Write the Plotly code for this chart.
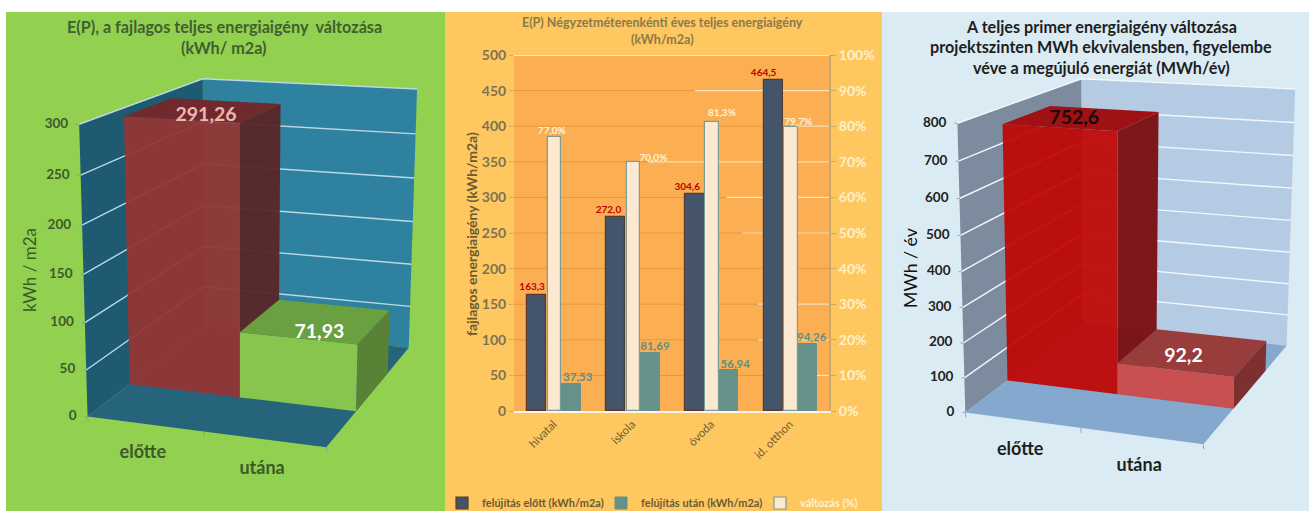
import numpy as np
import plotly.graph_objects as go

W, H = 1309, 511
FONT = "Lato"

# ---------- data ----------
left_categories = ["előtte", "utána"]
left_values = [291.26, 71.93]
left_labels = ["291,26", "71,93"]
left_ticks = [0, 50, 100, 150, 200, 250, 300]

mid_categories = ["hivatal", "iskola", "óvoda", "id. otthon"]
mid_before = [163.3, 272.0, 304.6, 464.5]
mid_after = [37.53, 81.69, 56.94, 94.26]
mid_change = [77.0, 70.0, 81.3, 79.7]
mid_ticks_left = [0, 50, 100, 150, 200, 250, 300, 350, 400, 450, 500]
mid_ticks_right = [0, 10, 20, 30, 40, 50, 60, 70, 80, 90, 100]

right_categories = ["előtte", "utána"]
right_values = [752.6, 92.2]
right_labels = ["752,6", "92,2"]
right_ticks = [0, 100, 200, 300, 400, 500, 600, 700, 800]


def dec(v, n):
    return f"{v:.{n}f}".replace(".", ",")


# ---------- perspective box: (u across, v depth, w height) -> page pixels ----------
def camera(pairs):
    A, b = [], []
    for (u, v, w), (px, py) in pairs:
        A.append([u, v, w, 1, 0, 0, 0, 0, -px * u, -px * v, -px * w])
        b.append(px)
        A.append([0, 0, 0, 0, u, v, w, 1, -py * u, -py * v, -py * w])
        b.append(py)
    p = np.linalg.lstsq(np.array(A, float), np.array(b, float), rcond=None)[0]
    M = np.append(p, 1).reshape(3, 4)

    def project(u, v, w):
        x, y, z = M @ np.array([u, v, w, 1.0])
        return x / z, y / z

    return project


left_box = camera([
    ((0, 0, 0), (88, 417)), ((1, 0, 0), (326, 447)), ((0, 1, 0), (204, 326)),
    ((1, 1, 0), (409, 348)), ((0, 0, 1), (79, 124)), ((0, 1, 1), (203, 79)),
    ((1, 1, 1), (417, 89)),
])
right_box = camera([
    ((0, 0, 0), (966, 413)), ((1, 0, 0), (1203, 444)), ((0, 1, 0), (1082, 323)),
    ((1, 1, 0), (1287, 346)), ((0, 0, 1), (957, 123)), ((0, 1, 1), (1082, 79)),
    ((1, 1, 1), (1295, 89)),
])

fig = go.Figure()


def poly(points, color):
    xs, ys = zip(*points)
    fig.add_trace(go.Scatter(x=list(xs) + [xs[0]], y=list(ys) + [ys[0]], mode="lines", fill="toself",
                             fillcolor=color, line=dict(width=0), hoverinfo="skip", showlegend=False))


def line(points, color, width=1.5):
    xs, ys = zip(*points)
    fig.add_trace(go.Scatter(x=list(xs), y=list(ys), mode="lines", line=dict(color=color, width=width),
                             hoverinfo="skip", showlegend=False))


def label(x, y, text, size, color, bold=True, pos="middle center"):
    fig.add_trace(go.Scatter(x=[x], y=[y], mode="text", text=[f"<b>{text}</b>" if bold else text],
                             textposition=pos, textfont=dict(family=FONT, size=size, color=color),
                             hoverinfo="skip", showlegend=False))


def chart3d(box, values, labels, cats, ticks, st):
    top = ticks[-1]
    P = lambda u, v, val: box(u, v, val / top)
    poly([P(0, 0, 0), P(0, 1, 0), P(0, 1, top), P(0, 0, top)], st["wall_left"])
    poly([P(0, 1, 0), P(1, 1, 0), P(1, 1, top), P(0, 1, top)], st["wall_back"])
    poly([P(0, 0, 0), P(1, 0, 0), P(1, 1, 0), P(0, 1, 0)], st["floor"])
    for t in ticks:
        if t > 0:
            line([P(0, 0, t), P(0, 1, t), P(1, 1, t)], st["grid"], 1.4)
        x, y = P(0, 0, t)
        line([(x - 3, y), (x, y)], st["axis"], 1)
        label(x - 11, y, str(t), 13.5, st["tick"], pos="middle left")
    for u in (0, .5, 1):
        x, y = P(u, 0, 0)
        line([(x, y), (x + 0.5, y + 5)], st["axis"], 1)
    v0, v1 = st["v0"], st["v1"]
    for i, val in enumerate(values):
        a, b = i / 2, (i + 1) / 2
        c = st["bars"][i]
        poly([P(a, v0, val), P(b, v0, val), P(b, v1, val), P(a, v1, val)], c["top"])
        poly([P(b, v0, 0), P(b, v1, 0), P(b, v1, val), P(b, v0, val)], c["side"])
        poly([P(a, v0, 0), P(b, v0, 0), P(b, v0, val), P(a, v0, val)], c["front"])
    for i, val in enumerate(values):
        a = (i + .5) / 2
        x, y = P(a, (v0 + v1) / 2, val)
        label(x + st["lab_dx"][i], y + st["lab_dy"][i], labels[i], 19.5, st["lab_col"][i])
        x, y = P(a, 0, 0)
        label(x - 2, y + 30, cats[i], 18, st["cat"])


chart3d(left_box, left_values, left_labels, left_categories, left_ticks, dict(
    wall_left="#1E5A72", wall_back="#2F829F", floor="#26647C", grid="#B9DAE2", axis="#7FA98E",
    tick="#3C5A2C", cat="#3A5A2A", v0=.32, v1=.71,
    bars=[dict(front="rgba(148,53,52,.94)", side="rgba(88,40,42,.96)", top="#702A2D"),
          dict(front="#88C54F", side="#5A8237", top="#6AA03F")],
    lab_dx=[2, 3], lab_dy=[6, 12], lab_col=["#EDB7B0", "#FFFFFF"],
))
chart3d(right_box, right_values, right_labels, right_categories, right_ticks, dict(
    wall_left="#7C8B9D", wall_back="#B5CAE3", floor="#85A8CE", grid="#F2F7FB", axis="#9AA5AE",
    tick="#222222", cat="#1E1E1E", v0=.32, v1=.71,
    bars=[dict(front="rgba(191,7,6,.94)", side="rgba(122,16,20,.96)", top="#A01114"),
          dict(front="#C85050", side="#7E2F2F", top="#993C3C")],
    lab_dx=[-8, -10], lab_dy=[1, 5], lab_col=["#1A0A0A", "#FFFFFF"],
))

# ---------- middle chart: ordinary grouped columns on two axes ----------
mid_x = list(range(len(mid_categories)))
BLUE, TEAL, CREAM = "#44546A", "#66918A", "#FBE9D2"
fig.add_trace(go.Bar(x=mid_x, y=mid_before, name="felújítás előtt (kWh/m2a)", width=.24, offset=-.33,
                     marker=dict(color=BLUE, line=dict(color="#5A3A2C", width=1.2)),
                     xaxis="x2", yaxis="y2"))
fig.add_trace(go.Bar(x=mid_x, y=mid_after, name="felújítás után (kWh/m2a)", width=.24, offset=.11,
                     marker=dict(color=TEAL, line=dict(color=TEAL, width=1)),
                     xaxis="x2", yaxis="y2"))
fig.add_trace(go.Bar(x=mid_x, y=mid_change, name='<span style="color:#FFF3D6">változás (%)</span>', width=.17, offset=-.07,
                     marker=dict(color=CREAM, line=dict(color="#7D9C98", width=1.2)),
                     xaxis="x2", yaxis="y3"))

AXIS_RATIO = 100 / 500  # all value labels sit on the top (percent) axis so no column hides them
before_dx = [-.27, -.30, -.30, -.33]
after_dx = [.31, .29, .31, .28]
change_dx = [-.02, .27, .14, .11]
change_dy = [0, -.6, 1, 0]
fig.add_trace(go.Scatter(x=[i + d for i, d in zip(mid_x, before_dx)], y=[v * AXIS_RATIO + .5 for v in mid_before],
                         text=[f"<b>{dec(v, 1)}</b>" for v in mid_before], mode="text", textposition="top center",
                         textfont=dict(family=FONT, size=10, color="#C00000"), xaxis="x2", yaxis="y3",
                         showlegend=False, hoverinfo="skip"))
fig.add_trace(go.Scatter(x=[i + d for i, d in zip(mid_x, after_dx)], y=[v * AXIS_RATIO for v in mid_after],
                         text=[f"<b>{dec(v, 2)}</b>" for v in mid_after], mode="text", textposition="top center",
                         textfont=dict(family=FONT, size=11.5, color="#5F8E85"), xaxis="x2", yaxis="y3",
                         showlegend=False, hoverinfo="skip"))
fig.add_trace(go.Scatter(x=[i + d for i, d in zip(mid_x, change_dx)], y=[v + d for v, d in zip(mid_change, change_dy)],
                         text=[f"<b>{dec(v, 1)}%</b>" for v in mid_change], mode="text", textposition="top center",
                         textfont=dict(family=FONT, size=10, color="#FFF3D6"), xaxis="x2", yaxis="y3",
                         showlegend=False, hoverinfo="skip"))

PLOT_L, PLOT_R, PLOT_T, PLOT_B = 514, 829, 55, 411
shapes = [
    dict(type="rect", xref="paper", yref="paper", x0=6 / W, x1=445 / W, y0=0, y1=1 - 12 / H, fillcolor="#92D050",
         line_width=0, layer="below"),
    dict(type="rect", xref="paper", yref="paper", x0=445 / W, x1=882 / W, y0=0, y1=1 - 12 / H, fillcolor="#FEC760",
         line_width=0, layer="below"),
    dict(type="rect", xref="paper", yref="paper", x0=882 / W, x1=1, y0=0, y1=1 - 12 / H, fillcolor="#DAEBF3",
         line_width=0, layer="below"),
    dict(type="rect", xref="paper", yref="paper", x0=PLOT_L / W, x1=PLOT_R / W, y0=1 - PLOT_B / H, y1=1 - PLOT_T / H,
         fillcolor="#FCAF52", line_width=0, layer="below"),
]
for lvl in mid_ticks_left[1:-1]:
    shapes.append(dict(type="line", xref="x2", yref="y2", x0=-.5, x1=3.5, y0=lvl, y1=lvl,
                       line=dict(color="#E8953F", width=1), layer="below"))
fade = {50: 2.9, 100: 2.6, 150: 2.6, 250: 2.4, 300: 2.2, 350: 1.2, 400: 3.0, 450: 1.8}
for lvl, start in fade.items():
    shapes.append(dict(type="line", xref="x2", yref="y2", x0=start, x1=3.5, y0=lvl, y1=lvl,
                       line=dict(color="rgba(255,240,215,.85)", width=1.2), layer="below"))
shapes.append(dict(type="line", xref="x2", yref="y2", x0=-.5, x1=3.5, y0=500, y1=500,
                   line=dict(color="#FFF6E6", width=1.5), layer="below"))


def note(x, y, text, size, color, angle=0):
    return dict(xref="paper", yref="paper", x=x / W, y=1 - y / H, text=text, showarrow=False, textangle=angle,
                font=dict(family=FONT, size=size, color=color), xanchor="center", yanchor="middle")


annotations = [
    note(224, 26, "<b>E(P), a fajlagos teljes energiaigény  változása</b>", 16.2, "#3F6030"),
    note(224, 47, "<b>(kWh/ m2a)</b>", 16.2, "#3F6030"),
    note(29, 270, "kWh / m2a", 17, "#3B5B2B", -90),
    note(662, 22, "<b>E(P) Négyzetméterenkénti éves teljes energiaigény</b>", 12.5, "#8A7A4A"),
    note(662, 39, "<b>(kWh/m2a)</b>", 12.5, "#8A7A4A"),
    note(471, 234, "<b>fajlagos energiaigény (kWh/m2a)</b>", 14, "#6B5A32", -90),
    note(1101, 26, "<b>A teljes primer energiaigény változása</b>", 16.2, "#1E1E1E"),
    note(1101, 46, "<b>projektszinten MWh ekvivalensben, figyelembe</b>", 16.2, "#1E1E1E"),
    note(1101, 67, "<b>véve a megújuló energiát (MWh/év)</b>", 16.2, "#1E1E1E"),
    note(910, 268, "MWh / év", 17.7, "#111111", -90),
]

fig.update_layout(
    width=W, height=H, margin=dict(l=0, r=0, t=0, b=0, autoexpand=False), paper_bgcolor="#FFFFFF",
    plot_bgcolor="rgba(0,0,0,0)",
    shapes=shapes, annotations=annotations,
    font=dict(family=FONT),
    xaxis=dict(domain=[0, 1], range=[0, W], visible=False, fixedrange=True),
    yaxis=dict(domain=[0, 1], range=[H, 0], visible=False, fixedrange=True),
    xaxis2=dict(domain=[PLOT_L / W, PLOT_R / W], range=[-.5, 3.5], tickmode="array", tickvals=mid_x,
                ticktext=mid_categories, tickangle=-45, anchor="y2", showgrid=False, ticks="",
                tickfont=dict(family=FONT, size=11.5, color="#6E5E36"), showline=True, linecolor="#FFF6E6", linewidth=2,
                fixedrange=True),
    yaxis2=dict(domain=[1 - PLOT_B / H, 1 - PLOT_T / H], range=[0, 500], tickvals=mid_ticks_left, anchor="x2",
                showgrid=False, ticks="outside", ticklen=4, tickcolor="#C9A86A",
                tickfont=dict(family=FONT, size=14, color="#7D7350", weight="bold"), fixedrange=True, zeroline=False),
    yaxis3=dict(domain=[1 - PLOT_B / H, 1 - PLOT_T / H], range=[0, 100], tickvals=mid_ticks_right,
                ticktext=[f"{t}%" for t in mid_ticks_right], overlaying="y2", side="right", anchor="x2", showgrid=False,
                showline=True, linecolor="#C9A86A", linewidth=2, ticks="outside", ticklen=5, tickcolor="#C9A86A",
                tickfont=dict(family=FONT, size=14, color="#FFF1CC", weight="bold"), fixedrange=True, zeroline=False),
    legend=dict(orientation="h", x=442 / W, y=1 - 503 / H, xanchor="left", yanchor="middle", bgcolor="rgba(0,0,0,0)",
                font=dict(family=FONT, size=11, color="#6B5A32", weight="bold"), itemclick=False,
                itemdoubleclick=False, traceorder="normal", tracegroupgap=0,
                entrywidthmode="pixels", entrywidth=114),
    bargap=0, hovermode=False,
)

fig.write_html("out.html", config=dict(displayModeBar=False),
               post_script="document.body.style.margin='0';document.body.style.overflow='hidden';")
